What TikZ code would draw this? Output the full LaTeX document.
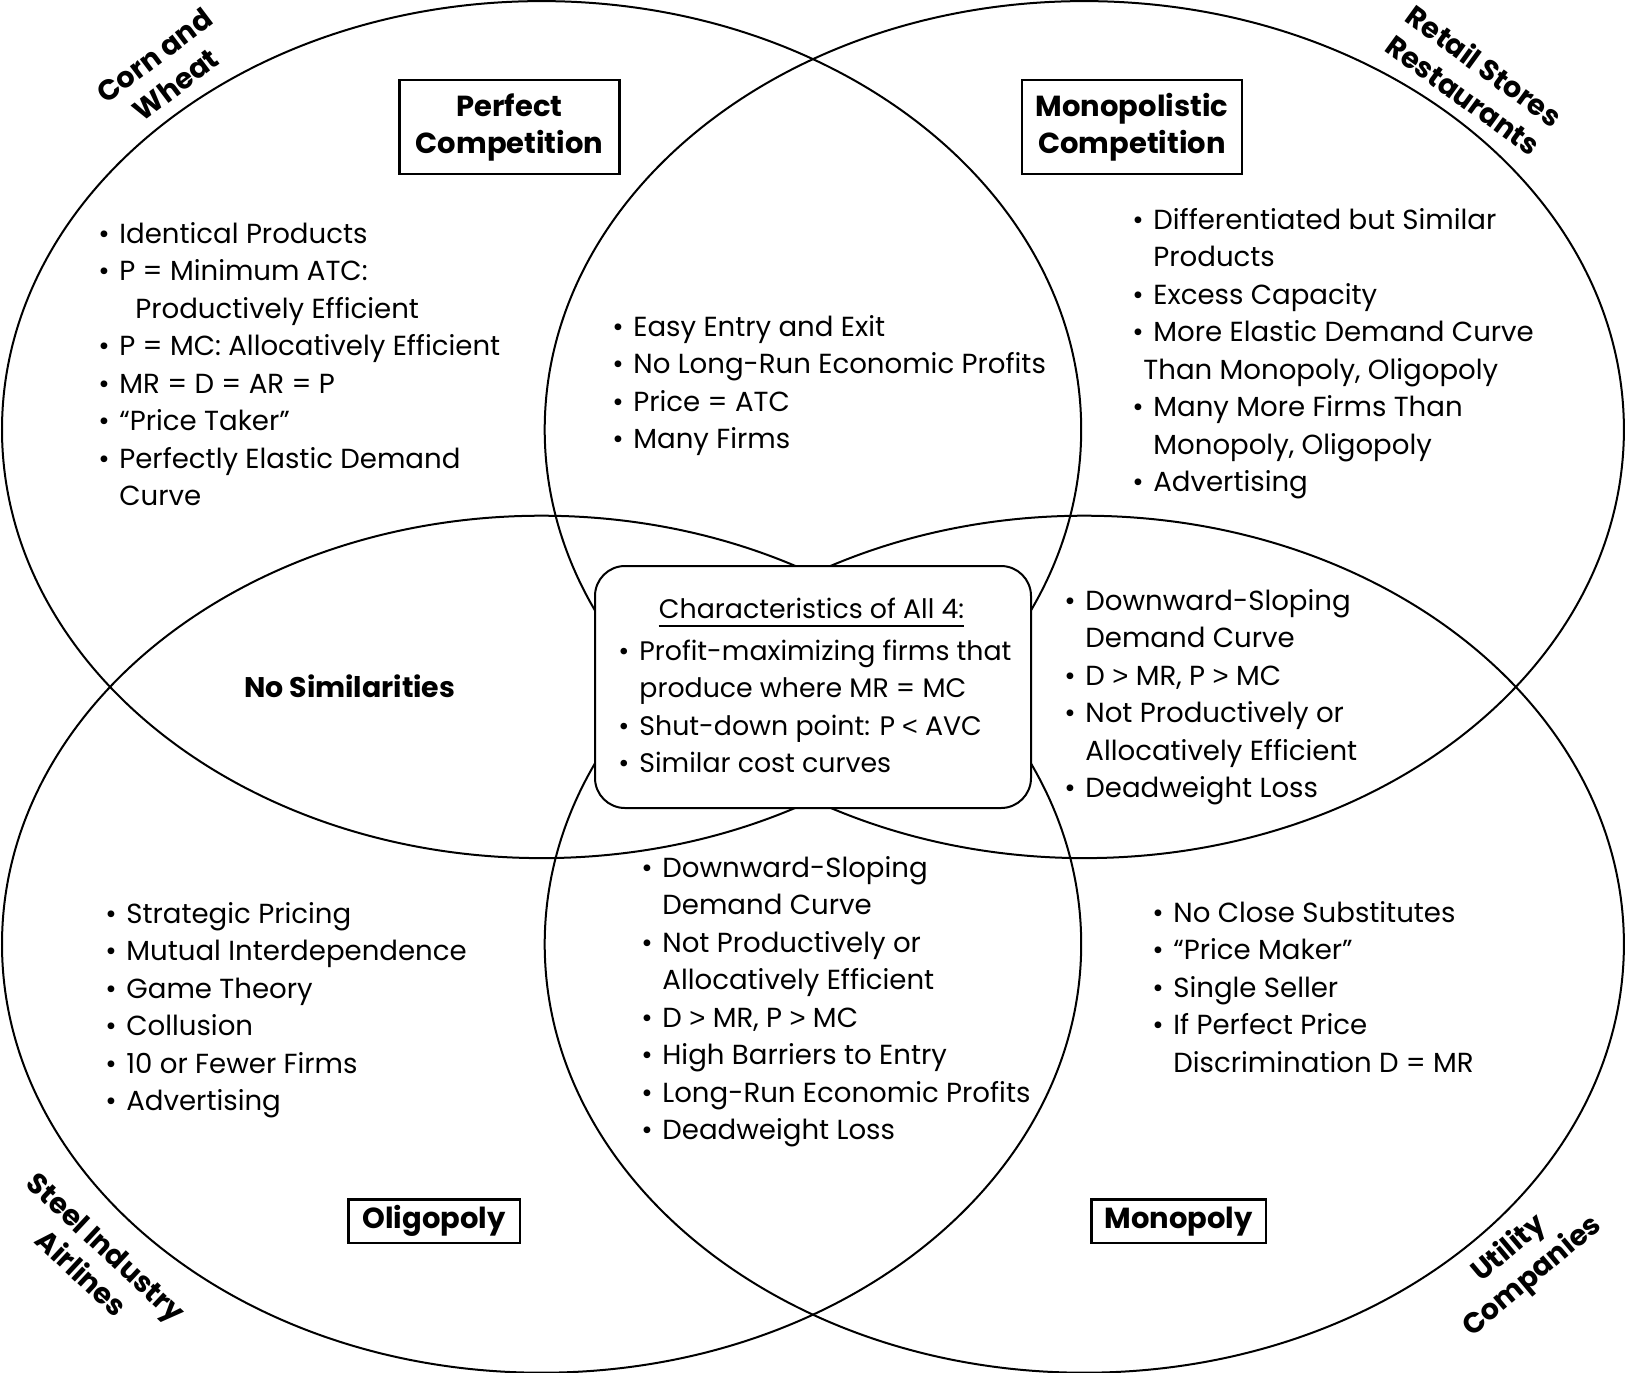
\documentclass[tikz,border=0pt]{standalone}
\usepackage{fontspec}
\setmainfont{Poppins}
\newfontfamily\symf{Liberation Sans}
\newcommand{\lt}{{\symf<}}
\newcommand{\gt}{{\symf>}}
\newcommand{\bl}{\makebox[10.5pt][l]{\textbullet}}
\newcommand{\lst}[1]{\begin{tabular}[t]{@{}l@{}l@{}}#1\end{tabular}}
\tikzset{
  ell/.style={line width=1pt},
  lst/.style={anchor=base west, inner sep=0pt, font=\fontsize{13.8}{18.75}\selectfont},
  tbox/.style={draw, line width=1.2pt, fill=white, align=center, inner sep=0pt,
    font=\fontsize{14.5}{18.5}\selectfont\bfseries},
  corner/.style={align=center, inner sep=0pt, font=\fontsize{14.3}{18}\selectfont\bfseries},
  cbox/.style={draw, line width=1pt, fill=white, rounded corners=15pt,
    minimum width=218pt, minimum height=121pt, inner sep=0pt}
}
\begin{document}
\begin{tikzpicture}[x=0.5pt,y=-0.5pt]
\useasboundingbox[fill=white] (0,0) rectangle (1627,1372);
% four ellipses
\draw[ell] (541.6,429.6) ellipse [x radius=539.6, y radius=428.5];
\draw[ell] (1084.3,429.6) ellipse [x radius=539.6, y radius=428.5];
\draw[ell] (541.6,944.2) ellipse [x radius=539.6, y radius=428.5];
\draw[ell] (1084.3,944.2) ellipse [x radius=539.6, y radius=428.5];
% center box
\node[cbox] (all4) at (813,687) {};
\node[lst, anchor=base, font=\fontsize{13.4}{18.75}\selectfont] (h4) at (811.5,618) {Characteristics of All 4:};
\draw[line width=0.9pt] ([yshift=-4pt]h4.base west) -- ([yshift=-4pt]h4.base east);
\node[lst, font=\fontsize{13.4}{18.75}\selectfont] (l4) at (618,660) {\lst{%
\bl & Profit-maximizing firms that\\
 & produce where MR = MC\\
\bl & Shut-down point: P \lt{} AVC\\
\bl & Similar cost curves}};
% titles
\node[tbox, minimum width=110pt, minimum height=47pt] (pc) at (509.5,127) {Perfect\\Competition};
\node[tbox, minimum width=110pt, minimum height=47pt] (mc) at (1132,127) {Monopolistic\\Competition};
\node[tbox, minimum width=85.6pt, minimum height=21.8pt] (ol) at (434.2,1221.2) {Oligopoly};
\node[tbox, minimum width=87.2pt, minimum height=21.8pt] (mo) at (1178.7,1221.2) {Monopoly};
\node[font=\fontsize{14.2}{18.5}\selectfont\bfseries, inner sep=0pt] (nosim) at (349.7,686) {No Similarities};
% corner labels
\node[corner, rotate=37] (corn) at (165,70) {Corn and\\Wheat};
\node[corner, rotate=-36] (retail) at (1474,80) {Retail Stores\\Restaurants};
\node[corner, rotate=-43] (steel) at (94,1260) {Steel Industry\\Airlines};
\node[corner, rotate=40] (util) at (1521,1263) {Utility\\Companies};
% lists
\node[lst] (tl) at (98,243) {\lst{%
\bl & Identical Products\\
\bl & P = Minimum ATC:\\
 & \hspace*{8pt}Productively Efficient\\
\bl & P = MC: Allocatively Efficient\\
\bl & MR = D = AR = P\\
\bl & ``Price Taker''\\
\bl & Perfectly Elastic Demand\\
 & Curve}};
\node[lst] (ct) at (612,336) {\lst{%
\bl & Easy Entry and Exit\\
\bl & No Long-Run Economic Profits\\
\bl & Price = ATC\\
\bl & Many Firms}};
\node[lst] (tr) at (1132,229) {\lst{%
\bl & Differentiated but Similar\\
 & Products\\
\bl & Excess Capacity\\
\bl & More Elastic Demand Curve\\
 & \hspace*{-5pt}Than Monopoly, Oligopoly\\
\bl & Many More Firms Than\\
 & Monopoly, Oligopoly\\
\bl & Advertising}};
\node[lst] (rm) at (1064,610) {\lst{%
\bl & Downward-Sloping\\
 & Demand Curve\\
\bl & D \gt{} MR, P \gt{} MC\\
\bl & Not Productively or\\
 & Allocatively Efficient\\
\bl & Deadweight Loss}};
\node[lst] (bl) at (105,923) {\lst{%
\bl & Strategic Pricing\\
\bl & Mutual Interdependence\\
\bl & Game Theory\\
\bl & Collusion\\
\bl & 10 or Fewer Firms\\
\bl & Advertising}};
\node[lst] (bc) at (641,877) {\lst{%
\bl & Downward-Sloping\\
 & Demand Curve\\
\bl & Not Productively or\\
 & Allocatively Efficient\\
\bl & D \gt{} MR, P \gt{} MC\\
\bl & High Barriers to Entry\\
\bl & Long-Run Economic Profits\\
\bl & Deadweight Loss}};
\node[lst] (br) at (1152,922) {\lst{%
\bl & No Close Substitutes\\
\bl & ``Price Maker''\\
\bl & Single Seller\\
\bl & If Perfect Price\\
 & Discrimination D = MR}};
\end{tikzpicture}
\end{document}
